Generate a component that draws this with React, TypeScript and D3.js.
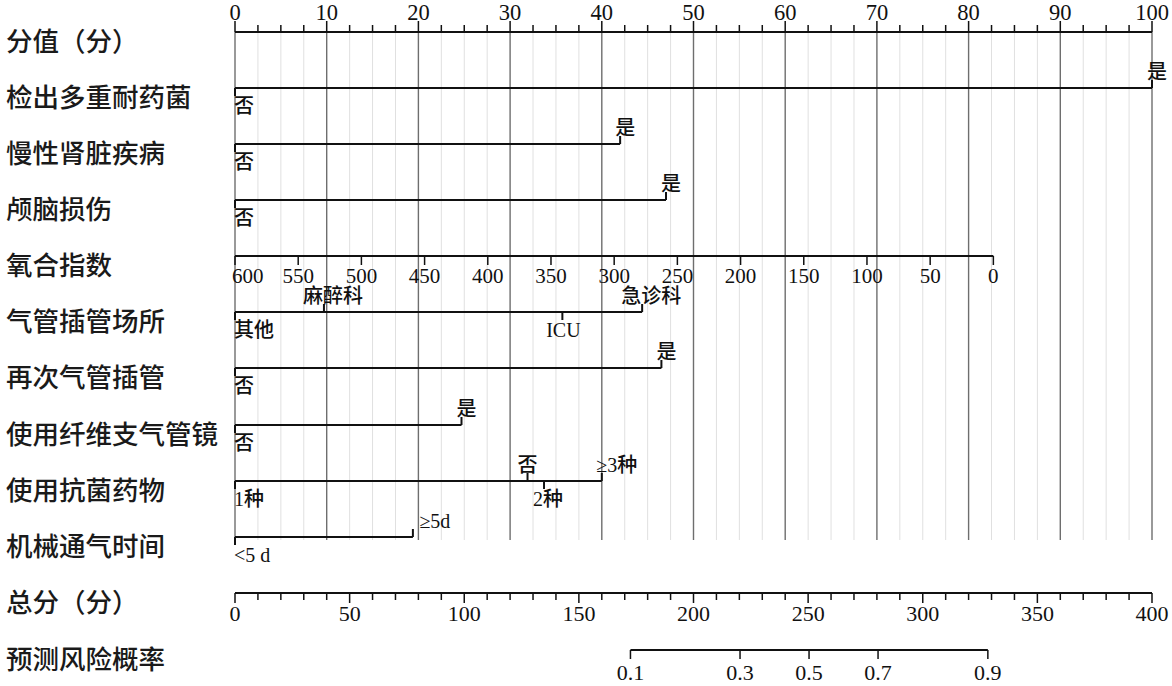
import React from "react";
import * as d3 from "d3";

// ---------------- data ----------------
const rowTitles = [
  "分值（分）",
  "检出多重耐药菌",
  "慢性肾脏疾病",
  "颅脑损伤",
  "氧合指数",
  "气管插管场所",
  "再次气管插管",
  "使用纤维支气管镜",
  "使用抗菌药物",
  "机械通气时间",
  "总分（分）",
  "预测风险概率",
];

const pointTicks = [0, 10, 20, 30, 40, 50, 60, 70, 80, 90, 100];

// categorical predictors: level labels and their points
const mdrLevels = ["否", "是"];
const mdrPoints = [0, 100];
const ckdLevels = ["否", "是"];
const ckdPoints = [0, 42];
const tbiLevels = ["否", "是"];
const tbiPoints = [0, 47];
const siteLevels = ["其他", "麻醉科", "ICU", "急诊科"];
const sitePoints = [0, 9.7, 35.7, 44.4];
const reintLevels = ["否", "是"];
const reintPoints = [0, 46.5];
const broncLevels = ["否", "是"];
const broncPoints = [0, 24.7];
const abxLevels = ["1种", "否", "2种", "≥3种"];
const abxPoints = [0, 31.9, 33.7, 40];
const mvLevels = ["<5 d", "≥5d"];
const mvPoints = [0, 19.4];

// oxygenation index (continuous): 600 -> 0 points, 0 -> max points
const oxyTicks = [600, 550, 500, 450, 400, 350, 300, 250, 200, 150, 100, 50, 0];
const oxyMaxPoints = 82.7;

// total points axis
const totalMax = 400;
const totalLabelTicks = [0, 50, 100, 150, 200, 250, 300, 350, 400];
// risk probability ticks and their total-point positions
const probLabels = ["0.1", "0.3", "0.5", "0.7", "0.9"];
const probTotals = [172.5, 220.3, 250.4, 280.5, 328.4];

// ---------------- style / layout ----------------
const W = 1172;
const H = 686;
const X0 = 235;
const X1 = 1152;
const rowY = [32, 88, 144, 200, 256, 312, 368, 425, 481, 537, 593, 650];
const gridBottom = 540;
const SERIF = "'Liberation Serif', 'Noto Sans CJK SC', serif";
const CJK = "'Noto Sans CJK SC', sans-serif";

// label side (above) and horizontal nudge
const sideAbove = new Set(["是", "麻醉科", "急诊科", "≥3种", "≥5d", "8|否"]);
const labelDx: Record<string, number> = {
  "2|是": 5,
  "3|是": 5,
  "6|是": 5,
  "7|是": 5,
  "1|是": 5,
  "5|麻醉科": 9,
  "5|急诊科": 9,
  "5|ICU": 1,
  "8|否": 0,
  "8|2种": 4,
  "8|≥3种": 15,
  "9|≥5d": 22,
};

export default function App() {
  const xPts = d3.scaleLinear().domain([0, 100]).range([X0, X1]);
  const xTot = d3.scaleLinear().domain([0, totalMax]).range([X0, X1]);
  const xOxy = d3
    .scaleLinear()
    .domain([600, 0])
    .range([xPts(0), xPts(oxyMaxPoints)]);

  const minorPts = d3.range(0, 100.01, 2.5).filter((v) => v % 10 !== 0);
  const totalMinor = d3.range(0, totalMax + 0.1, 10);

  const catRows: { row: number; levels: string[]; pts: number[] }[] = [
    { row: 1, levels: mdrLevels, pts: mdrPoints },
    { row: 2, levels: ckdLevels, pts: ckdPoints },
    { row: 3, levels: tbiLevels, pts: tbiPoints },
    { row: 5, levels: siteLevels, pts: sitePoints },
    { row: 6, levels: reintLevels, pts: reintPoints },
    { row: 7, levels: broncLevels, pts: broncPoints },
    { row: 8, levels: abxLevels, pts: abxPoints },
    { row: 9, levels: mvLevels, pts: mvPoints },
  ];

  const probX = probTotals.map((t) => xTot(t));

  return (
    <svg
      width={W}
      height={H}
      style={{ position: "absolute", left: 0, top: 0, background: "#fff" }}
    >
      {/* grid */}
      {minorPts.map((v) => (
        <line
          key={"gm" + v}
          x1={xPts(v)}
          x2={xPts(v)}
          y1={rowY[0]}
          y2={gridBottom}
          stroke="#e0e0e0"
          strokeWidth={1}
        />
      ))}
      {pointTicks.map((v) => (
        <line
          key={"gM" + v}
          x1={xPts(v)}
          x2={xPts(v)}
          y1={rowY[0]}
          y2={gridBottom}
          stroke="#6e6e6e"
          strokeWidth={1.4}
        />
      ))}

      {/* row titles */}
      {rowTitles.map((t, i) => (
        <text
          key={"t" + i}
          x={6}
          y={rowY[i] + 7}
          dominantBaseline="central"
          fontFamily={CJK}
          fontSize={26.5}
          fontWeight={500}
          fill="#1a1a1a"
        >
          {t}
        </text>
      ))}

      {/* points axis */}
      <line x1={X0} x2={X1} y1={rowY[0]} y2={rowY[0]} stroke="#111" strokeWidth={2} />
      {minorPts.map((v) => (
        <line
          key={"pt" + v}
          x1={xPts(v)}
          x2={xPts(v)}
          y1={rowY[0]}
          y2={rowY[0] - 7}
          stroke="#111"
          strokeWidth={1.5}
        />
      ))}
      {pointTicks.map((v) => (
        <g key={"pT" + v}>
          <line
            x1={xPts(v)}
            x2={xPts(v)}
            y1={rowY[0]}
            y2={rowY[0] - 11}
            stroke="#111"
            strokeWidth={1.5}
          />
          <text
            x={xPts(v)}
            y={rowY[0] - 20}
            textAnchor="middle"
            dominantBaseline="central"
            fontFamily={SERIF}
            fontSize={22.5}
            fill="#111"
          >
            {v}
          </text>
        </g>
      ))}

      {/* categorical rows */}
      {catRows.map((r) => {
        const y = rowY[r.row];
        const xs = r.pts.map((p) => xPts(p));
        const maxX = d3.max(xs) as number;
        return (
          <g key={"r" + r.row}>
            <line x1={X0} x2={maxX} y1={y} y2={y} stroke="#111" strokeWidth={2} />
            {r.levels.map((lab, i) => {
              const key = r.row + "|" + lab;
              const isAbove =
                r.row === 8 && lab === "否" ? sideAbove.has(key) : sideAbove.has(lab);
              const dir = isAbove ? -1 : 1;
              const x = xs[i];
              const atStart = r.pts[i] === 0;
              const dx = labelDx[key] ?? 0;
              return (
                <g key={lab}>
                  <line
                    x1={x}
                    x2={x}
                    y1={y}
                    y2={y + dir * 8}
                    stroke="#111"
                    strokeWidth={2}
                  />
                  <text
                    x={atStart ? x - 1 : x + dx}
                    y={y + dir * (isAbove ? 16 : 18)}
                    textAnchor={atStart ? "start" : "middle"}
                    dominantBaseline="central"
                    fontFamily={SERIF}
                    fontSize={20}
                    fontWeight={500}
                    fill="#111"
                  >
                    {lab}
                  </text>
                </g>
              );
            })}
          </g>
        );
      })}

      {/* oxygenation index axis */}
      <line
        x1={xOxy(600)}
        x2={xOxy(0)}
        y1={rowY[4]}
        y2={rowY[4]}
        stroke="#111"
        strokeWidth={2}
      />
      {oxyTicks.map((v, i) => (
        <g key={"o" + v}>
          <line
            x1={xOxy(v)}
            x2={xOxy(v)}
            y1={rowY[4]}
            y2={rowY[4] + 9}
            stroke="#111"
            strokeWidth={1.5}
          />
          <text
            x={i === 0 ? xOxy(v) - 3 : xOxy(v)}
            y={rowY[4] + 20}
            textAnchor={i === 0 ? "start" : "middle"}
            dominantBaseline="central"
            fontFamily={SERIF}
            fontSize={21}
            fill="#111"
          >
            {v}
          </text>
        </g>
      ))}

      {/* total points axis */}
      <line x1={X0} x2={X1} y1={rowY[10]} y2={rowY[10]} stroke="#111" strokeWidth={2} />
      {totalMinor.map((v) => {
        const major = v % 50 === 0;
        return (
          <line
            key={"tm" + v}
            x1={xTot(v)}
            x2={xTot(v)}
            y1={rowY[10]}
            y2={rowY[10] + (major ? 10 : 7)}
            stroke="#111"
            strokeWidth={1.5}
          />
        );
      })}
      {totalLabelTicks.map((v) => (
        <text
          key={"tl" + v}
          x={xTot(v)}
          y={rowY[10] + 20}
          textAnchor="middle"
          dominantBaseline="central"
          fontFamily={SERIF}
          fontSize={22}
          fill="#111"
        >
          {v}
        </text>
      ))}

      {/* risk probability axis */}
      <line
        x1={probX[0]}
        x2={probX[probX.length - 1]}
        y1={rowY[11]}
        y2={rowY[11]}
        stroke="#111"
        strokeWidth={2}
      />
      {probLabels.map((lab, i) => (
        <g key={"p" + lab}>
          <line
            x1={probX[i]}
            x2={probX[i]}
            y1={rowY[11]}
            y2={rowY[11] + 9}
            stroke="#111"
            strokeWidth={1.5}
          />
          <text
            x={probX[i]}
            y={rowY[11] + 22}
            textAnchor="middle"
            dominantBaseline="central"
            fontFamily={SERIF}
            fontSize={22}
            fill="#111"
          >
            {lab}
          </text>
        </g>
      ))}
    </svg>
  );
}
